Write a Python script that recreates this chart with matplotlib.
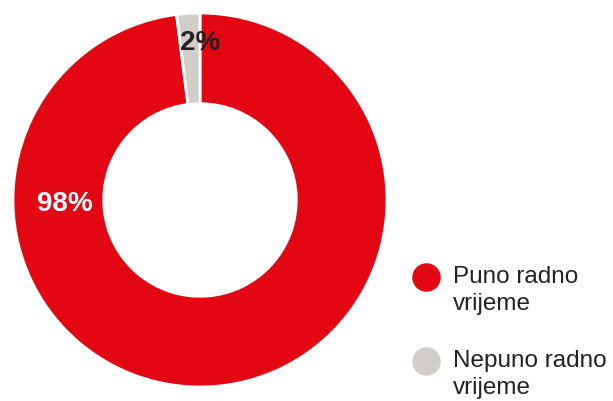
import matplotlib.pyplot as plt
from matplotlib.lines import Line2D

# data
labels = ['Puno radno\nvrijeme', 'Nepuno radno\nvrijeme']
values = [98, 2]
colors = ['#E30613', '#D1CDC9']
pct_text = ['98%', '2%']

plt.rcParams['font.family'] = ['Liberation Sans', 'DejaVu Sans']

W, H = 613, 401
fig = plt.figure(figsize=(W / 100, H / 100), dpi=100)

# donut axes: centre (200, 200) px, radius 187 px
cx, cy, r = 200, 200, 187
ax = fig.add_axes([(cx - r) / W, (H - cy - r) / H, 2 * r / W, 2 * r / H])
wedges, _ = ax.pie(values, colors=colors, startangle=90, counterclock=False,
                   radius=1, wedgeprops=dict(width=0.485, edgecolor='white', linewidth=2))
ax.set_xlim(-1, 1)
ax.set_ylim(-1, 1)
ax.set_aspect('equal')
ax.axis('off')

# percentage labels
ax.text(-0.725, -0.02, pct_text[0], color='white', fontsize=20, fontweight='bold',
        ha='center', va='center')
ax.text(0.0, 0.84, pct_text[1], color='#222222', fontsize=20, fontweight='bold',
        ha='center', va='center')

# legend drawn by hand so the marker sits beside the first line
leg_y = [277, 361]
for lab, col, y in zip(labels, colors, leg_y):
    fig.add_artist(Line2D([426 / W], [1 - y / H], marker='o', markersize=19.5,
                          color=col, linestyle='none', transform=fig.transFigure))
    fig.text(453 / W, 1 - (y - 11) / H, lab, fontsize=17.5, color='#222222',
             ha='left', va='top', linespacing=1.3)

fig.savefig('out.png', dpi=100)
